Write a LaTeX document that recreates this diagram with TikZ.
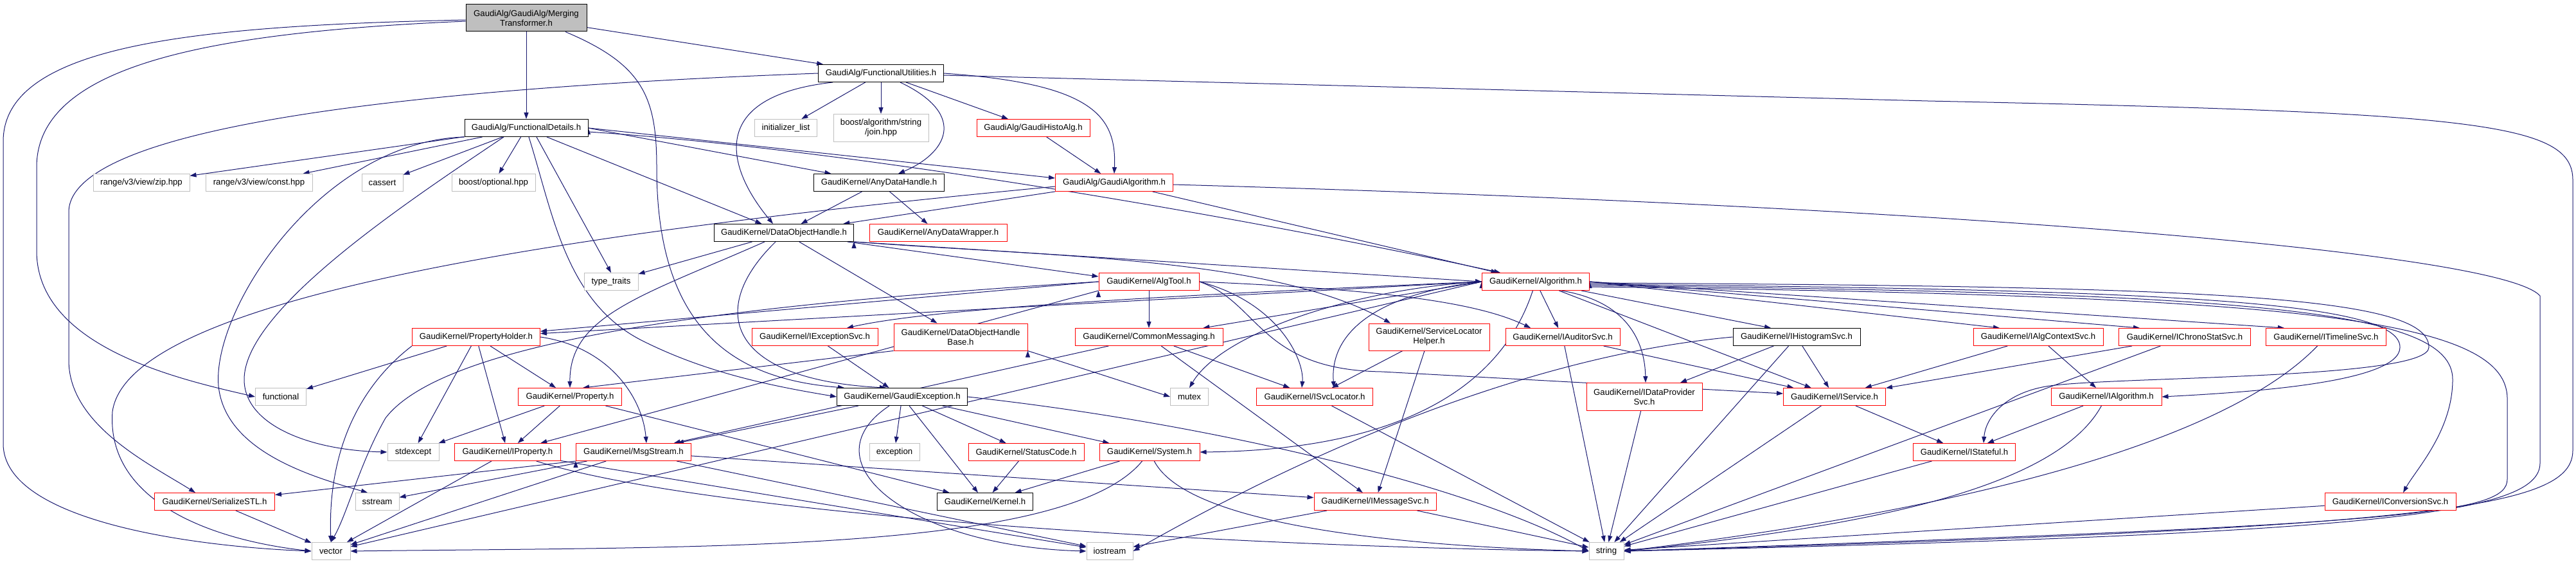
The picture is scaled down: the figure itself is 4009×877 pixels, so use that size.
\documentclass[tikz,border=0pt]{standalone}
\usepackage{fontspec}
\setmainfont{Liberation Sans}
\usetikzlibrary{arrows.meta,backgrounds}
\definecolor{edgeblue}{HTML}{191970}
\definecolor{sysgray}{HTML}{BFBFBF}
\newcommand{\lbl}{\fontsize{13.2}{15}\selectfont}
\tikzset{
  hdr/.style={draw, fill=white, line width=1pt, inner sep=0pt, minimum height=27, align=center, font=\lbl},
  sys/.style={hdr, draw=sysgray},
  part/.style={hdr, draw=red},
  rootbox/.style={hdr, fill=sysgray},
  dep/.style={edgeblue, draw, line width=1pt, -{Triangle[length=10pt,width=7pt]}},
}
\begin{document}
\begin{tikzpicture}[x=1pt,y=-1pt]
    \useasboundingbox (0,0) rectangle (4009,877);
    \node[rootbox, minimum width=188, minimum height=42] (root) at (819,28) {GaudiAlg/GaudiAlg/Merging\\Transformer.h};
    \node[hdr, minimum width=195] (futil) at (1371,114) {GaudiAlg/FunctionalUtilities.h};
    \node[hdr, minimum width=192] (fdet) at (819,199) {GaudiAlg/FunctionalDetails.h};
    \node[sys, minimum width=97] (initlist) at (1223,199) {initializer\_list};
    \node[sys, minimum width=148, minimum height=43] (join) at (1371,199) {boost/algorithm/string\\/join.hpp};
    \node[part, minimum width=176] (histoalg) at (1608,199) {GaudiAlg/GaudiHistoAlg.h};
    \node[sys, minimum width=150] (zip) at (220,284) {range/v3/view/zip.hpp};
    \node[sys, minimum width=166] (rconst) at (403,284) {range/v3/view/const.hpp};
    \node[sys, minimum width=64] (cassert) at (595,284) {cassert};
    \node[sys, minimum width=130] (optional) at (768,284) {boost/optional.hpp};
    \node[hdr, minimum width=203] (anyhandle) at (1368,284) {GaudiKernel/AnyDataHandle.h};
    \node[part, minimum width=183] (gaudialg) at (1734,284) {GaudiAlg/GaudiAlgorithm.h};
    \node[hdr, minimum width=217] (doh) at (1220,362) {GaudiKernel/DataObjectHandle.h};
    \node[part, minimum width=214] (anywrap) at (1460,362) {GaudiKernel/AnyDataWrapper.h};
    \node[sys, minimum width=84] (typetraits) at (951,438) {type\_traits};
    \node[part, minimum width=156] (algtool) at (1788,438) {GaudiKernel/AlgTool.h};
    \node[part, minimum width=167] (algorithm) at (2390,438) {GaudiKernel/Algorithm.h};
    \node[part, minimum width=199] (propholder) at (741,524) {GaudiKernel/PropertyHolder.h};
    \node[part, minimum width=196] (iexcsvc) at (1268,524) {GaudiKernel/IExceptionSvc.h};
    \node[part, minimum width=208, minimum height=42] (dohbase) at (1495,524) {GaudiKernel/DataObjectHandle\\Base.h};
    \node[part, minimum width=230] (commsg) at (1788,524) {GaudiKernel/CommonMessaging.h};
    \node[part, minimum width=188, minimum height=42] (slhelper) at (2224,524) {GaudiKernel/ServiceLocator\\Helper.h};
    \node[part, minimum width=178] (iauditor) at (2432,524) {GaudiKernel/IAuditorSvc.h};
    \node[hdr, minimum width=198] (ihisto) at (2796,524) {GaudiKernel/IHistogramSvc.h};
    \node[part, minimum width=202] (ialgctx) at (3172,524) {GaudiKernel/IAlgContextSvc.h};
    \node[part, minimum width=205] (ichrono) at (3400,524) {GaudiKernel/IChronoStatSvc.h};
    \node[part, minimum width=187] (itimeline) at (3620,524) {GaudiKernel/ITimelineSvc.h};
    \node[sys, minimum width=79] (functional) at (437,617) {functional};
    \node[part, minimum width=161] (property) at (887,617) {GaudiKernel/Property.h};
    \node[hdr, minimum width=203] (gexc) at (1404,617) {GaudiKernel/GaudiException.h};
    \node[sys, minimum width=59] (mutex) at (1851,617) {mutex};
    \node[part, minimum width=181] (isvcloc) at (2046,617) {GaudiKernel/ISvcLocator.h};
    \node[part, minimum width=180, minimum height=43] (idataprov) at (2559,617) {GaudiKernel/IDataProvider\\Svc.h};
    \node[part, minimum width=159] (iservice) at (2855,617) {GaudiKernel/IService.h};
    \node[part, minimum width=172] (ialgorithm) at (3278,617) {GaudiKernel/IAlgorithm.h};
    \node[sys, minimum width=80] (stdexcept) at (643,703) {stdexcept};
    \node[part, minimum width=165] (iproperty) at (790,703) {GaudiKernel/IProperty.h};
    \node[part, minimum width=179] (msgstream) at (986,703) {GaudiKernel/MsgStream.h};
    \node[sys, minimum width=78] (exception) at (1392,703) {exception};
    \node[part, minimum width=180] (statuscode) at (1597,703) {GaudiKernel/StatusCode.h};
    \node[part, minimum width=156] (system) at (1789,703) {GaudiKernel/System.h};
    \node[part, minimum width=159] (istateful) at (3057,703) {GaudiKernel/IStateful.h};
    \node[part, minimum width=187] (serialize) at (334,780) {GaudiKernel/SerializeSTL.h};
    \node[sys, minimum width=68] (sstream) at (587,780) {sstream};
    \node[hdr, minimum width=149] (kernel) at (1533,780) {GaudiKernel/Kernel.h};
    \node[part, minimum width=190] (imsgsvc) at (2140,780) {GaudiKernel/IMessageSvc.h};
    \node[part, minimum width=204] (iconv) at (3720,780) {GaudiKernel/IConversionSvc.h};
    \node[sys, minimum width=60] (vector) at (515,857) {vector};
    \node[sys, minimum width=72] (iostream) at (1727,857) {iostream};
    \node[sys, minimum width=54] (string) at (2500,857) {string};

    \begin{scope}[on background layer]
    \path[dep] (root) edge (fdet) edge (futil);
    \draw[dep] ([yshift=-3]root.west) .. controls (300,40) and (5,70) .. (5,220) -- (5,690) .. controls (5,810) and (300,850) .. (vector.west);
    \draw[dep] ([yshift=-5]root.west) .. controls (330,50) and (57,100) .. (57,260) -- (57,390) .. controls (57,540) and (280,590) .. (functional.west);
    \draw[dep] ([xshift=61]root.south) .. controls (1000,100) and (1022,150) .. (1022,260) .. controls (1022,520) and (1150,590) .. ([xshift=-90]gexc.north);

    \path[dep] (futil) edge (initlist) edge (join) edge (histoalg);
    \draw[dep] ([xshift=-75]futil.south) .. controls (1100,150) and (1130,260) .. ([xshift=-17]doh.north);
    \draw[dep] ([xshift=30]futil.south) .. controls (1510,180) and (1470,240) .. ([xshift=30]anyhandle.north);
    \draw[dep] (futil.east) .. controls (1700,130) and (1738,180) .. (gaudialg.north);
    \draw[dep] (futil.west) .. controls (700,135) and (107,190) .. (107,330) -- (107,560) .. controls (107,660) and (230,720) .. ([xshift=-30]serialize.north);
    \draw[dep] ([yshift=-3]futil.east) -- (3000,157) .. controls (3850,175) and (4004,190) .. (4004,280) -- (4004,700) .. controls (4004,790) and (3800,820) .. (string.east);

    \path[dep] (fdet) edge (zip) edge (rconst) edge (cassert) edge (optional);
    \path[dep] ([xshift=16]fdet.south) edge (typetraits.north) ([xshift=32]fdet.south) edge (doh) (fdet.east) edge (anyhandle) edge ([yshift=7]gaudialg.west);
    \draw[dep] ([yshift=-6]fdet.east) .. controls (1300,230) and (1900,330) .. ([xshift=-55]algorithm.north);
    \draw[dep] ([xshift=4]fdet.south) .. controls (860,330) and (880,470) .. (1000,530) .. controls (1100,580) and (1200,600) .. (gexc.west);
    \draw[dep] ([xshift=-35]fdet.south) .. controls (640,310) and (380,480) .. (380,590) .. controls (380,660) and (480,700) .. (stdexcept.west);
    \draw[dep] (fdet.south west) .. controls (500,220) and (330,480) .. (340,600) .. controls (350,700) and (480,740) .. ([xshift=-15]sstream.north);

    \path[dep] (histoalg) edge (gaudialg);
    \path[dep] (gaudialg) edge (doh) edge (algorithm);
    \draw[dep] ([yshift=-6]gaudialg.west) .. controls (900,360) and (200,460) .. (175,640) .. controls (165,780) and (330,840) .. (vector.west);
    \draw[dep] ([yshift=-3]gaudialg.east) .. controls (3000,320) and (3890,390) .. (3953,460) -- (3953,720) .. controls (3953,800) and (3700,830) .. (string.east);

    \path[dep] (anyhandle) edge (doh) edge (anywrap);

    \path[dep] (doh) edge (typetraits) edge (dohbase) ([xshift=-10]doh.south east) edge ([yshift=8]algtool.west) (doh.south east) edge (algorithm.west);
    \draw[dep] ([xshift=-30]doh.south) .. controls (1000,460) and (886,490) .. (property.north);
    \draw[dep] ([xshift=-13]doh.south) .. controls (1100,480) and (1130,590) .. ([xshift=-25]gexc.north);
    \draw[dep] (doh.south east) .. controls (1650,400) and (1980,400) .. ([xshift=-60]slhelper.north);

    \path[dep] (algtool) edge (commsg) (algtool.west) edge (propholder) (algtool.south west) edge (iproperty);
    \draw[dep] (algtool.east) .. controls (2150,450) and (2300,470) .. ([xshift=-50]iauditor.north);
    \draw[dep] (algtool.east) .. controls (1990,470) and (2030,560) .. ([xshift=-20]isvcloc.north);
    \draw[dep] (algtool.west) .. controls (1200,470) and (700,520) .. (600,650) .. controls (560,720) and (540,800) .. (vector.north);
    \draw[dep] (algtool.east) .. controls (1960,470) and (1960,575) .. (2150,578) -- ([yshift=5]iservice.west);

    \path[dep] (algorithm.west) edge (propholder) edge (commsg) edge (vector);
    \path[dep] (algorithm) edge (iauditor) edge ([xshift=-40]ihisto.north) edge (iservice);
    \path[dep] (algorithm.east) edge ([xshift=-60]ialgctx.north) edge ([xshift=-70]ichrono.north) edge ([xshift=-65]itimeline.north);
    \draw[dep] (algorithm.west) .. controls (1800,460) and (1450,480) .. ([xshift=50]iexcsvc.north);
    \draw[dep] (algorithm) .. controls (2330,620) and (2150,700) .. (system.east);
    \draw[dep] (algorithm.west) .. controls (2120,460) and (2070,530) .. ([xshift=30]isvcloc.north);
    \draw[dep] (algorithm.west) .. controls (2100,450) and (1900,520) .. (mutex.north);
    \draw[dep] ([xshift=40]algorithm.south) .. controls (2540,470) and (2560,540) .. ([xshift=2]idataprov.north);
    \draw[dep] ([yshift=-2]algorithm.east) .. controls (3450,445) and (3780,460) .. (3780,540) .. controls (3780,590) and (3300,585) .. (3190,600) .. controls (3120,610) and (3090,650) .. ([xshift=30]istateful.north);
    \draw[dep] ([yshift=-4]algorithm.east) .. controls (3400,450) and (3735,470) .. (3735,540) .. controls (3735,595) and (3500,610) .. (ialgorithm.east);
    \draw[dep] ([yshift=-6]algorithm.east) .. controls (3500,455) and (3817,480) .. (3817,590) .. controls (3817,670) and (3760,730) .. ([xshift=20]iconv.north);
    \draw[dep] ([yshift=-8]algorithm.east) .. controls (3550,460) and (3902,490) .. (3902,620) -- (3902,745) .. controls (3902,800) and (3750,815) .. (string.east);

    \path[dep] (propholder) edge (functional) edge (stdexcept) edge (iproperty) edge (property);
    \draw[dep] (propholder.south west) .. controls (560,600) and (510,700) .. (vector.north);
    \draw[dep] (propholder.east) .. controls (950,540) and (1000,620) .. ([xshift=20]msgstream.north);

    \path[dep] (iexcsvc) edge (gexc);
    \path[dep] (dohbase.south west) edge ([xshift=20]property.north) (dohbase.south east) edge (mutex.west);
    \path[dep] (commsg) edge (msgstream) edge (isvcloc) edge (imsgsvc);
    \path[dep] (slhelper) edge (isvcloc) edge (imsgsvc);
    \path[dep] (iauditor) edge (iservice) edge (string);
    \path[dep] (ihisto) edge (idataprov) edge (iservice) edge (string);
    \draw[dep] (ihisto.west) .. controls (2300,560) and (1900,780) .. (iostream.east);

    \path[dep] (ialgctx) edge (ialgorithm) edge (iservice);
    \path[dep] (ichrono) edge (iservice) edge (string);
    \draw[dep] (itimeline) .. controls (3450,700) and (3000,800) .. (string.east);
    \draw[dep] (ialgorithm) .. controls (3200,760) and (2900,820) .. (string.east);
    \path[dep] (ialgorithm) edge (istateful);
    \path[dep] (iservice) edge (istateful) edge (string);
    \path[dep] (istateful) edge (string);
    \path[dep] (idataprov) edge (string);
    \path[dep] (iconv) edge (string);
    \path[dep] (isvcloc) edge (string);
    \path[dep] (imsgsvc) edge (string) edge (iostream);

    \path[dep] (property) edge (stdexcept) edge (iproperty) edge (kernel);
    \path[dep] (iproperty) edge (vector) edge (iostream);
    \draw[dep] (iproperty) .. controls (1100,800) and (1900,850) .. (string.west);
    \path[dep] (msgstream.south west) edge (serialize) (msgstream) edge (sstream) edge (vector) edge (imsgsvc) edge (iostream);
    \path[dep] (serialize) edge (vector);
    \path[dep] (gexc) edge (msgstream) edge (exception) edge (statuscode) edge (system) edge (kernel);
    \draw[dep] ([xshift=-20]gexc.south) .. controls (1250,720) and (1420,850) .. (iostream.west);
    \draw[dep] (gexc.east) .. controls (1900,660) and (2300,760) .. (string.west);
    \path[dep] (statuscode) edge (kernel);
    \path[dep] (system) edge (kernel);
    \draw[dep] (system) .. controls (1850,820) and (2200,850) .. (string.west);
    \draw[dep] (system) .. controls (1660,860) and (1100,850) .. (vector.east);
    \end{scope}
  \end{tikzpicture}
\end{document}
